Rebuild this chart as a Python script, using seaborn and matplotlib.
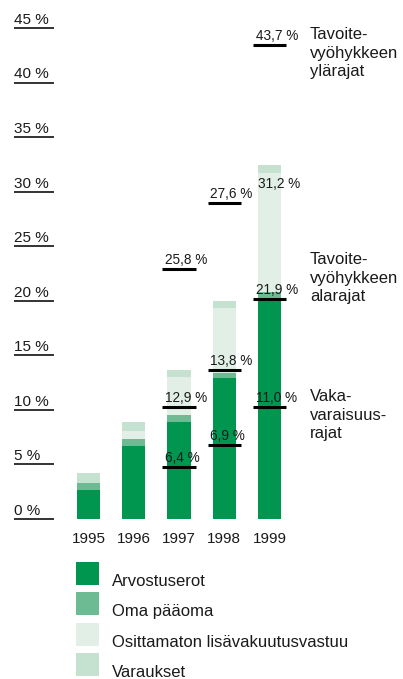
import matplotlib
matplotlib.use('Agg')
import matplotlib.pyplot as plt
import seaborn as sns
from matplotlib.patches import Rectangle

# ------------------Data------------------
years = ['1995', '1996', '1997', '1998', '1999']
arvostuserot = [2.7, 6.7, 8.9, 12.9, 20.0]
oma_paaoma = [0.6, 0.6, 0.6, 0.5, 0.8]
osittamaton = [0.0, 0.8, 3.5, 5.9, 10.9]
varaukset = [0.9, 0.8, 0.7, 0.7, 0.7]

series_names = ['Arvostuserot', 'Oma pääoma', 'Osittamaton lisävakuutusvastuu', 'Varaukset']
series_colors = ['#009650', '#6dbb93', '#e2efe6', '#c5e1d0']

y_ticks = [0, 5, 10, 15, 20, 25, 30, 35, 40, 45]

# limits for 1997-1999 (levels as drawn, labels as printed)
limit_years = ['1997', '1998', '1999']
solvency_level = [4.8, 6.8, 10.3]
solvency_label = ['6,4 %', '6,9 %', '11,0 %']
lower_level = [10.3, 13.65, 20.15]
lower_label = ['12,9 %', '13,8 %', '21,9 %']
upper_level = [22.95, 29.0, 43.4]
upper_label = ['25,8 %', '27,6 %', '43,7 %']
total_label_1999 = '31,2 %'

side_notes = ['Tavoite-\nvyöhykkeen\nylärajat', 'Tavoite-\nvyöhykkeen\nalarajat', 'Vaka-\nvaraisuus-\nrajat']
side_note_top = [45.1, 24.45, 11.9]

# ------------------Plot------------------
sns.set_style('white')
plt.rcParams['font.family'] = ['Liberation Sans', 'DejaVu Sans']
text_color = '#1a1a1a'

fig = plt.figure(figsize=(4.03, 6.79), dpi=100)
ax = fig.add_axes([0, 0, 1, 1])

# stacked bars: draw cumulative totals from top down
stack = [arvostuserot, oma_paaoma, osittamaton, varaukset]
cum = []
running = [0.0] * len(years)
for s in stack:
    running = [r + v for r, v in zip(running, s)]
    cum.append(running)
for values, color in reversed(list(zip(cum, series_colors))):
    sns.barplot(x=years, y=values, color=color, saturation=1, width=0.51,
                linewidth=0, ax=ax)

# left scale: short lines with labels above
for t in y_ticks:
    ax.hlines(t, -1.646, -0.762, color='#333333', lw=1.4)
    ax.annotate(f'{t} %', (-1.646, t), xytext=(0, 3), textcoords='offset points',
                ha='left', va='baseline', fontsize=11, color=text_color)

# year labels
for i, y in enumerate(years):
    ax.text(i, -1.83, y, ha='center', va='center', fontsize=11, color=text_color)

# limit lines
xpos = {y: i for i, y in enumerate(years)}
for levels, labels in [(solvency_level, solvency_label),
                       (lower_level, lower_label),
                       (upper_level, upper_label)]:
    for yr, lv, lb in zip(limit_years, levels, labels):
        x = xpos[yr]
        ax.hlines(lv, x - 0.37, x + 0.37, color='black', lw=2.2)
        ax.annotate(lb, (x - 0.37, lv), xytext=(2, 3.6), textcoords='offset points',
                    ha='left', va='baseline', fontsize=9.8, color=text_color)

# total label on the 1999 bar
ax.annotate(total_label_1999, (4 - 0.255, cum[-1][-1]), xytext=(0, -16),
            textcoords='offset points', ha='left', va='baseline',
            fontsize=9.8, color=text_color)

# side notes
for note, top in zip(side_notes, side_note_top):
    ax.text(4.89, top, note, ha='left', va='top', fontsize=12,
            linespacing=1.3, color=text_color)

ax.set_xlim(-1.956, 6.95)
ax.set_ylim(-14.67, 47.57)
ax.set_axis_off()

# legend
W, H = 403, 679
for k, (name, color) in enumerate(zip(series_names, series_colors)):
    top = 561.7 + k * 30.5
    fig.add_artist(Rectangle((76 / W, 1 - (top + 23) / H), 23 / W, 23 / H,
                             transform=fig.transFigure, color=color, lw=0))
    fig.text(112 / W, 1 - (top + 19.5) / H, name, ha='left', va='center',
             fontsize=12, color=text_color)

plt.savefig('out.png', dpi=100)
